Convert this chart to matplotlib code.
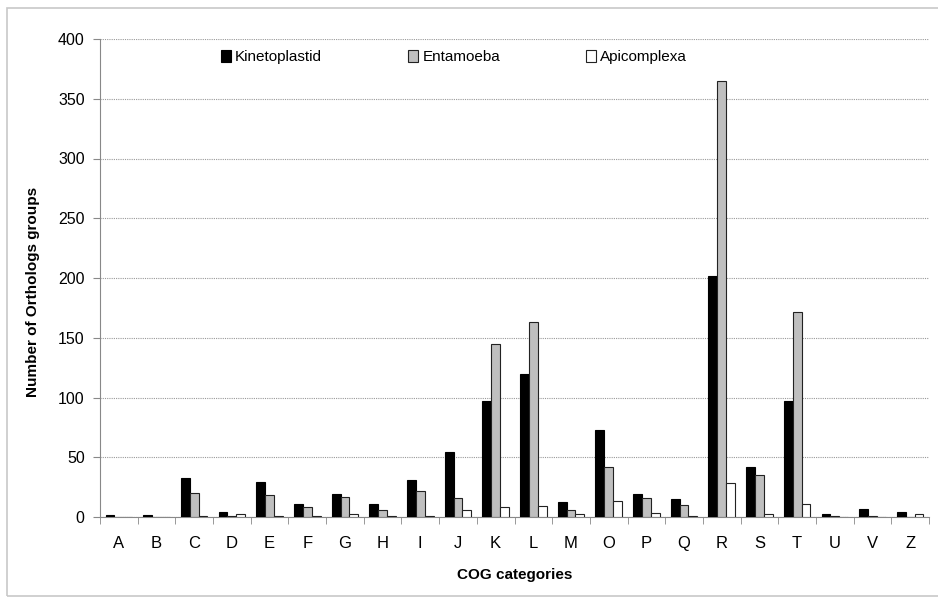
import numpy as np
import matplotlib
matplotlib.use("Agg")
import matplotlib.pyplot as plt
from matplotlib.patches import Rectangle

plt.rcParams['font.family'] = ['Liberation Sans', 'DejaVu Sans']

categories = ['A', 'B', 'C', 'D', 'E', 'F', 'G', 'H', 'I', 'J', 'K',
              'L', 'M', 'O', 'P', 'Q', 'R', 'S', 'T', 'U', 'V', 'Z']
kinetoplastid = [1.5, 1.5, 33, 4.5, 29.5, 10.5, 19.5, 10.5, 31, 54.5, 97,
                 119.5, 12.5, 73, 19.5, 15, 201.5, 42, 97, 2.5, 7, 4.5]
entamoeba = [0, 0, 20.5, 1, 18.5, 8, 17, 5.5, 21.5, 15.5, 144.5,
             163.5, 5.5, 42, 16, 10, 365, 35.5, 171.5, 1, 1, 0]
apicomplexa = [0, 0, 1, 2.5, 1, 1, 2.5, 1, 1, 5.5, 8,
               9, 2.5, 13.5, 3.5, 1, 28.5, 2.5, 10.5, 0, 0, 2.5]
yticks = [0, 50, 100, 150, 200, 250, 300, 350, 400]

fig = plt.figure(figsize=(9.38, 5.98), dpi=100)
ax = fig.add_axes([100/938, 81/598, 829/938, 478/598])

# light frame round the whole chart
fig.patches.append(Rectangle((7/938, 2/598), 1.0, 588/598, transform=fig.transFigure,
                             fill=False, edgecolor='#c8c8c8', linewidth=1.2))

x = np.arange(len(categories))
w = 0.235
ax.bar(x - w, kinetoplastid, w, color='black', edgecolor='black', linewidth=0.8,
       label='Kinetoplastid', zorder=3)
ax.bar(x, entamoeba, w, color='#bfbfbf', edgecolor='#222222', linewidth=0.8,
       label='Entamoeba', zorder=3)
ax.bar(x + w, apicomplexa, w, color='white', edgecolor='#222222', linewidth=0.8,
       label='Apicomplexa', zorder=3)

ax.set_xlim(-0.5, len(categories) - 0.5)
ax.set_ylim(0, 400)
ax.set_yticks(yticks)
ax.set_xticks(x)
ax.set_xticklabels(categories)
ax.set_xticks(np.arange(len(categories) + 1) - 0.5, minor=True)
ax.tick_params(axis='x', which='major', length=0, pad=14, labelsize=12)
ax.tick_params(axis='x', which='minor', length=5, color='#888888', direction='out')
ax.tick_params(axis='y', length=5, color='#888888', labelsize=11.5, pad=6)

ax.grid(axis='y', linestyle=(0, (1, 1)), color='#999999', linewidth=0.8, zorder=0)
for s in ['top', 'right']:
    ax.spines[s].set_visible(False)
for s in ['left', 'bottom']:
    ax.spines[s].set_color('#888888')

ax.set_xlabel('COG categories', fontsize=11, fontweight='bold', labelpad=12)
ax.set_ylabel('Number of Orthologs groups', fontsize=11, fontweight='bold')
ax.yaxis.set_label_coords(-60/829, 0.47)

ax.legend(loc='upper left', bbox_to_anchor=(110/829, 1.0), ncol=3, frameon=False,
          fontsize=11, handlelength=0.7, handleheight=0.9, handletextpad=0.25,
          columnspacing=5.6, borderaxespad=0.3)

fig.savefig('out.png', dpi=100)
